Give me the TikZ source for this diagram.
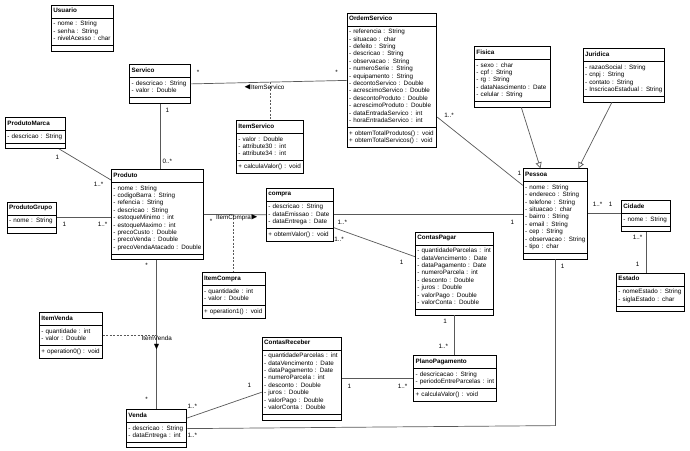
\documentclass[tikz,border=0pt]{standalone}
\usepackage{amssymb}
\usepackage{fontspec}
\setmainfont{Liberation Sans}
\usetikzlibrary{shapes.multipart,arrows.meta}
\newcommand{\umlfont}{\fontsize{6.3}{7.4}\selectfont}
\newcommand{\dirtri}[1]{{\fontsize{9}{9}\selectfont$#1$}}
\tikzset{
	class diagram/.style={x=1pt, y=-1pt, font=\umlfont},
	cls/.style={rectangle split, rectangle split parts=3, draw, line width=0.8pt,
		inner xsep=2pt, inner ysep=2.3pt, text width=#1, align=left,
		anchor=north west, rectangle split empty part height=1.5pt, fill=white},
	assoc/.style={draw=black!65, line width=0.7pt},
	assoc class/.style={assoc, dash pattern=on 2pt off 1.5pt},
	gen/.style={assoc, -{Triangle[open, length=6pt, width=6pt]}},
	mult/.style={inner sep=0pt},
}
% #1 name, #2 top left corner, #3 text width, #4 title, #5 attributes, #6 operations
\newcommand{\umlclass}[6]{%
	\node[cls=#3] (#1) at #2
		{\centering\strut\textbf{#4}\strut
		 \nodepart{second}\raggedright\strut#5\strut
		 \nodepart{third}\raggedright\ifx\relax#6\relax\else\strut#6\strut\fi};}

\begin{document}
\begin{tikzpicture}[class diagram]
  \useasboundingbox[fill=white] (0,0) rectangle (690,450);
  % classes
  \umlclass{Usuario}{(51,4.7)}{58.1pt}{Usuario}
    {- nome : String\\- senha : String\\- nivelAcesso : char}{}
  \umlclass{Servico}{(129.3,64.3)}{56.5pt}{Servico}
    {- descricao : String\\- valor : Double}{}
  \umlclass{ProdutoMarca}{(5,117)}{56.1pt}{ProdutoMarca}
    {- descricao : String}{}
  \umlclass{ProdutoGrupo}{(6.7,201.7)}{45.1pt}{ProdutoGrupo}
    {- nome : String}{}
  \umlclass{Produto}{(111,169)}{88.1pt}{Produto}
    {- nome : String\\- codigoBarra : String\\- refencia : String\\- descricao : String\\
     - estoqueMinimo : int\\- estoqueMaximo : int\\- precoCusto : Double\\
     - precoVenda : Double\\- precoVendaAtacado : Double}{}
  \umlclass{ItemServico}{(236,120)}{63.1pt}{ItemServico}
    {- valor : Double\\- attribute30 : int\\- attribute34 : int}
    {+ calculaValor() : void}
  \umlclass{OrdemServico}{(346.7,12.7)}{85.7pt}{OrdemServico}
    {- referencia : String\\- situacao : char\\- defeito : String\\- descricao : String\\
     - observacao : String\\- numeroSerie : String\\- equipamento : String\\
     - decontoServico : Double\\- acrescimoServico : Double\\- descontoProduto : Double\\
     - acrescimoProduto : Double\\- dataEntradaServico : int\\- horaEntradaServico : int}
    {+ obtemTotalProdutos() : void\\+ obtemTotalServicos() : void}
  \umlclass{Fisica}{(474,46)}{71.8pt}{Fisica}
    {- sexo : char\\- cpf : String\\- rg : String\\- dataNascimento : Date\\- celular : String}{}
  \umlclass{Juridica}{(582.7,48.3)}{77.7pt}{Juridica}
    {- razaoSocial : String\\- cnpj : String\\- contato : String\\- InscricaoEstadual : String}{}
  \umlclass{Pessoa}{(522.7,168.3)}{60.7pt}{Pessoa}
    {- nome : String\\- endereco : String\\- telefone : String\\- situacao : char\\
     - bairro : String\\- email : String\\- cep : String\\- observacao : String\\- tipo : char}{}
  \umlclass{Cidade}{(621,200)}{45.1pt}{Cidade}
    {- nome : String}{}
  \umlclass{Estado}{(616,272.7)}{64.1pt}{Estado}
    {- nomeEstado : String\\- siglaEstado : char}{}
  \umlclass{ContasPagar}{(415,231.7)}{74.4pt}{ContasPagar}
    {- quantidadeParcelas : int\\- dataVencimento : Date\\- dataPagamento : Date\\
     - numeroParcela : int\\- desconto : Double\\- juros : Double\\- valorPago : Double\\
     - valorConta : Double}{}
  \umlclass{compra}{(266,187.7)}{63.1pt}{compra}
    {- descricao : String\\- dataEmissao : Date\\- dataEntrega : Date}
    {+ obtemValor() : void}
  \umlclass{ItemCompra}{(201.7,272.3)}{59.1pt}{ItemCompra}
    {- quantidade : int\\- valor : Double}{+ operation1() : void}
  \umlclass{PlanoPagamento}{(413.3,355)}{79.1pt}{PlanoPagamento}
    {- descricacao : String\\- periodoEntreParcelas : int}{+ calculaValor() : void}
  \umlclass{ContasReceber}{(261.7,336.7)}{75.1pt}{ContasReceber}
    {- quantidadeParcelas : int\\- dataVencimento : Date\\- dataPagamento : Date\\
     - numeroParcela : int\\- desconto : Double\\- juros : Double\\- valorPago : Double\\
     - valorConta : Double}{}
  \umlclass{Venda}{(126,409)}{56.4pt}{Venda}
    {- descricao : String\\- dataEntrega : int}{}
  \umlclass{ItemVenda}{(39,312.3)}{58.8pt}{ItemVenda}
    {- quantidade : int\\- valor : Double}{+ operation0() : void}
  % associations
  \draw[assoc] (Servico.east) -- coordinate[midway] (asServ) (OrdemServico.west);
  \draw[assoc class] (asServ -| ItemServico.north) -- (ItemServico.north);
  \draw[assoc] (Servico.south) -- (Servico.south |- Produto.north);
  \draw[assoc] ([xshift=-7pt]ProdutoMarca.south east) -- ([yshift=-11pt]Produto.north west);
  \draw[assoc] (ProdutoGrupo.east) -- (ProdutoGrupo.east -| Produto.west);
  \draw[assoc] (Produto.east) -- coordinate[pos=.49] (asCompra) (compra.west);
  \draw[assoc class] (asCompra -| ItemCompra.north) -- (ItemCompra.north);
  \draw[assoc] (compra.east) -- (compra.east -| Pessoa.west);
  \draw[assoc] ([yshift=-13pt]compra.east) -- ([yshift=-25pt]ContasPagar.north west);
  \draw[assoc] ([yshift=31pt]OrdemServico.south east) -- ([yshift=-17pt]Pessoa.north west);
  \draw[gen] ([xshift=9pt]Fisica.south) -- ([xshift=-15pt]Pessoa.north);
  \draw[gen] ([xshift=-12pt]Juridica.south) -- ([xshift=23pt]Pessoa.north);
  \draw[assoc] (Pessoa.east) -- (Pessoa.east -| Cidade.west);
  \draw[assoc] (Cidade.south) -- (Cidade.south |- Estado.north);
  \draw[assoc] (ContasPagar.south) -- (ContasPagar.south |- PlanoPagamento.north);
  \draw[assoc] (ContasReceber.east) -- (ContasReceber.east -| PlanoPagamento.west);
  \draw[assoc] (Venda.north |- Produto.south) -- coordinate[midway] (asVenda) (Venda.north);
  \draw[assoc class] (ItemVenda.east) -- (ItemVenda.east -| asVenda);
  \draw[assoc] ([yshift=10.6pt]Venda.east) -- ([yshift=-13.7pt]ContasReceber.west);
  \draw[assoc] (Venda.east) -- ([yshift=3pt]Venda.east -| Pessoa.south) -- (Pessoa.south);
  % association names
  \node[mult, anchor=west] (nServ) at (244,87.3) {\dirtri{\blacktriangleleft}ItemServico};
  \node[mult, anchor=west] (nCompra) at (216,217.7) {ItemCompra\dirtri{\blacktriangleright}};
  \node[mult] (nVenda) at (156.7,338) {ItemVenda};
  \node[mult] (tVenda) at (156.7,347.5) {\dirtri{\blacktriangledown}};
  % multiplicities
  \foreach \x/\y/\t [count=\i] in {198/72/*, 336.7/72/*, 167.3/110/1, 167.3/161/0..*,
      57.3/157.7/1, 98.7/184/1..*, 64.3/224/1, 102.7/224/1..*, 211/221/*,
      342.3/222/1..*, 512.3/222.3/1, 339/239/1..*, 401.7/262.7/1,
      449/115/1..*, 519.3/173/1, 597.7/204.3/1..*, 610.7/204.3/1,
      637.7/237.7/1..*, 637.7/264/1, 445/321.7/1, 443.3/346.7/1..*,
      349.3/386/1, 402.7/386/1..*, 146.7/265/*, 146.7/399/*,
      192.3/406/1..*, 249.3/385.7/1, 192.3/435.7/1..*, 562.7/266.7/1}
    \node[mult] (m\i) at (\x,\y) {\t};
\end{tikzpicture}
\end{document}
